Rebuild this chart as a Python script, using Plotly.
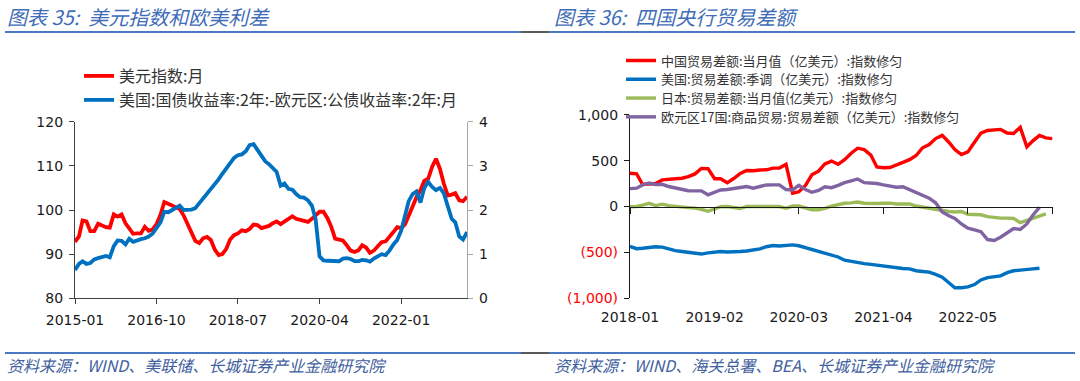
import pandas as pd
import plotly.graph_objects as go

# ---------------- data: left chart (monthly, 2015-01 .. 2023-06) ----------------
left_start = "2015-01-01"
dxy = [92.8, 94.0, 97.6, 97.4, 95.2, 95.2, 96.9, 96.4, 96.1, 96.0, 99.0, 98.5,
       99.0, 97.0, 95.9, 94.6, 94.7, 94.7, 96.2, 95.3, 95.6, 96.8, 98.9, 101.8,
       101.4, 101.0, 100.8, 100.2, 98.8, 97.0, 94.9, 93.0, 92.5, 93.6, 93.9, 93.2,
       91.0, 89.8, 90.0, 91.2, 93.3, 94.3, 94.7, 95.4, 95.2, 95.7, 96.7, 96.6,
       95.9, 96.1, 96.4, 97.0, 97.4, 96.8, 97.4, 98.2, 98.6, 98.0, 97.8, 97.7,
       97.3, 98.0, 98.7, 99.6, 99.6, 98.2, 96.3, 93.5, 93.3, 93.1, 92.0, 90.8,
       90.5, 90.9, 92.0, 91.5, 90.3, 90.8, 91.8, 92.7, 92.9, 93.8, 95.0, 96.1,
       95.9, 96.8, 98.8, 100.6, 102.9, 104.5, 106.6, 107.1, 109.8, 111.6, 109.3, 106.0,
       103.3, 103.5, 103.8, 102.2, 102.0, 103.0]
spread = [0.64, 0.78, 0.84, 0.78, 0.80, 0.88, 0.91, 0.94, 0.96, 0.93, 1.18, 1.31,
          1.30, 1.22, 1.35, 1.28, 1.32, 1.34, 1.36, 1.40, 1.47, 1.58, 1.72, 1.96,
          1.95, 2.00, 2.05, 2.10, 2.00, 2.00, 2.01, 2.04, 2.15, 2.27, 2.36, 2.50,
          2.60, 2.70, 2.82, 2.94, 3.06, 3.18, 3.24, 3.26, 3.33, 3.47, 3.49, 3.35,
          3.22, 3.10, 3.04, 2.95, 2.86, 2.55, 2.60, 2.48, 2.46, 2.36, 2.29, 2.28,
          2.22, 2.10, 1.80, 0.95, 0.86, 0.85, 0.85, 0.84, 0.84, 0.90, 0.91, 0.89,
          0.84, 0.84, 0.87, 0.86, 0.83, 0.90, 0.96, 1.00, 0.98, 1.08, 1.22, 1.32,
          1.53, 1.85, 2.20, 2.36, 2.42, 2.17, 2.50, 2.64, 2.52, 2.45, 2.50, 2.38,
          2.10, 1.80, 1.72, 1.40, 1.33, 1.50]
left_ticks = ["2015-01", "2016-10", "2018-07", "2020-04", "2022-01"]
left_names = ["美元指数:月", "美国:国债收益率:2年:-欧元区:公债收益率:2年:月"]

# ---------------- data: right chart (monthly, 2018-01 ..) ----------------
right_start = "2018-01-01"
china = [363, 356, 240, 244, 251, 290, 300, 302, 308, 325, 355, 415,
         412, 302, 302, 258, 305, 360, 392, 390, 398, 400, 418, 420,
         460, 145, 160, 230, 345, 385, 465, 495, 460, 510, 580, 635,
         620, 560, 430, 422, 425, 450, 480, 510, 555, 640, 675, 740,
         775, 700, 620, 565, 595, 700, 800, 828, 830, 840, 800, 795,
         862, 650, 715, 775, 748, 740]
usa = [-435, -460, -455, -447, -438, -442, -465, -480, -490, -498, -508, -518,
       -505, -495, -490, -495, -495, -490, -485, -478, -462, -438, -425, -430,
       -426, -418, -428, -450, -470, -485, -510, -530, -550, -585, -600, -606,
       -622, -630, -640, -650, -660, -668, -675, -680, -700, -708, -715, -740,
       -770, -830, -885, -885, -875, -850, -800, -775, -765, -755, -720, -700,
       -693, -690, -680, -672]
japan = [-2, 0, 15, 35, 10, 25, 10, 0, -5, -12, -18, -30,
         -52, -25, -2, 0, -10, -22, 0, 0, -2, 0, 0, 0,
         -20, 5, 5, -20, -35, -35, -20, 5, 20, 35, 40, 48,
         35, 30, 33, 36, 37, 28, 28, 28, 5, -8, -15, -25,
         -45, -55, -60, -55, -85, -90, -90, -110, -120, -127, -127, -130,
         -175, -150, -130, -105, -80]
euro = [195, 200, 235, 255, 238, 242, 218, 200, 185, 172, 170, 170,
        128, 155, 180, 185, 200, 207, 218, 200, 218, 235, 236, 236,
        185, 180, 230, 185, 155, 175, 215, 205, 230, 260, 280, 300,
        260, 255, 250, 235, 225, 210, 215, 185, 150, 120, 90, 40,
        -60, -100, -130, -190, -235, -255, -275, -360, -370, -335, -290, -240,
        -250, -190, -95, -10]
right_ticks = ["2018-01", "2019-02", "2020-03", "2021-04", "2022-05", "2023-06"]
right_yvals = [1000, 500, 0, -500, -1000]
right_ylabels = ["1,000", "500", "0", "(500)", "(1,000)"]
right_names = ["中国贸易差额:当月值（亿美元）:指数修匀",
               "美国:贸易差额:季调（亿美元）:指数修匀",
               "日本:贸易差额:当月值(亿美元）:指数修匀",
               "欧元区17国:商品贸易:贸易差额（亿美元）:指数修匀"]

titles = ["图表 35:  美元指数和欧美利差", "图表 36:  四国央行贸易差额"]
sources = ["资料来源：WIND、美联储、长城证券产业金融研究院",
           "资料来源：WIND、海关总署、BEA、长城证券产业金融研究院"]

# ---------------- build ----------------
W, H = 1080, 381
def py(p):  # pixel-from-top -> paper
    return 1 - p / H
def px(p):
    return p / W

dates_l = pd.date_range(left_start, periods=len(dxy), freq="MS")
dates_r = pd.date_range(right_start, periods=len(china), freq="MS")

TICKFONT = dict(family="DejaVu Sans", size=14, color="#1a1a1a")
LEGFONT_L = dict(family="Noto Sans CJK SC", size=16, color="#333333")
LEGFONT_R = dict(family="Noto Sans CJK SC", size=13, color="#333333")

fig = go.Figure()
fig.add_trace(go.Scatter(x=dates_l, y=dxy, name=left_names[0], mode="lines",
                         line=dict(color="#FF0000", width=3.8), xaxis="x", yaxis="y",
                         legend="legend"))
fig.add_trace(go.Scatter(x=dates_l, y=spread, name=left_names[1], mode="lines",
                         line=dict(color="#0070C0", width=3.8), xaxis="x", yaxis="y2",
                         legend="legend2"))

rcolors = ["#FF0000", "#0070C0", "#9BBB59", "#8064A2"]
rseries = [china, usa, japan, euro]
for i, (s, c) in enumerate(zip(rseries, rcolors)):
    fig.add_trace(go.Scatter(x=dates_r[:len(s)], y=s, name=right_names[i], mode="lines",
                             line=dict(color=c, width=3.4), xaxis="x2", yaxis="y3",
                             legend="legend%d" % (i + 3)))
# helper (invisible) trace so the zero-line axis of the right chart is drawn
fig.add_trace(go.Scatter(x=[dates_r[0]], y=[0], mode="lines", line=dict(width=0),
                         showlegend=False, hoverinfo="skip", xaxis="x3", yaxis="y4"))

yl_dom = [py(298.3), py(121.7)]
yr_dom = [py(298.3), py(114.7)]
zero_pos = yr_dom[0] + (yr_dom[1] - yr_dom[0]) * 0.5
r_end = pd.Timestamp(right_ticks[-1] + "-01")

fig.update_layout(
    width=W, height=H, margin=dict(l=0, r=0, t=0, b=0, autoexpand=False),
    paper_bgcolor="white", plot_bgcolor="white",
    xaxis=dict(domain=[px(75), px(467)], anchor="y", automargin=False,
               range=[dates_l[0], dates_l[-1]],
               tickvals=[pd.Timestamp(t + "-01") for t in left_ticks], ticktext=left_ticks,
               ticks="outside", ticklen=5, tickcolor="#404040",
               showline=True, linecolor="#404040", linewidth=1.2,
               showgrid=False, zeroline=False, tickfont=TICKFONT, ticklabelstandoff=4),
    yaxis=dict(domain=yl_dom, anchor="x", range=[80, 120], dtick=10, automargin=False,
               ticks="outside", ticklen=5, tickcolor="#404040",
               showline=True, linecolor="#404040", linewidth=1.2,
               showgrid=False, zeroline=False, tickfont=TICKFONT, ticklabelstandoff=3),
    yaxis2=dict(overlaying="y", side="right", anchor="x", range=[0, 4], dtick=1,
                automargin=False,
                ticks="outside", ticklen=5, tickcolor="#A6A6A6",
                showline=True, linecolor="#A6A6A6", linewidth=1.2,
                showgrid=False, zeroline=False, tickfont=TICKFONT, ticklabelstandoff=3),
    xaxis2=dict(domain=[px(630), px(1052.5)], anchor="y3", automargin=False,
                range=[dates_r[0], r_end],
                tickvals=[pd.Timestamp(t + "-01") for t in right_ticks], ticktext=right_ticks,
                ticks="", showline=False, showgrid=False, zeroline=False,
                tickfont=TICKFONT, ticklabelstandoff=9),
    yaxis3=dict(domain=yr_dom, anchor="x2", range=[-1000, 1000], automargin=False,
                tickvals=right_yvals,
                ticktext=[t if v >= 0 else '<span style="color:#FF0000">%s</span>' % t
                          for t, v in zip(right_ylabels, right_yvals)],
                ticks="outside", ticklen=5, tickcolor="#1a1a1a",
                showline=True, linecolor="#1a1a1a", linewidth=1.2,
                showgrid=False, zeroline=False, tickfont=TICKFONT, ticklabelstandoff=3),
    xaxis3=dict(overlaying="x2", anchor="free", position=zero_pos, side="bottom",
                automargin=False, range=[dates_r[0], r_end],
                tickvals=[pd.Timestamp(t + "-01") for t in right_ticks],
                showticklabels=False, ticks="outside", ticklen=6, tickcolor="#1a1a1a",
                showline=True, linecolor="#1a1a1a", linewidth=1.2,
                showgrid=False, zeroline=False),
    yaxis4=dict(overlaying="y3", anchor="x2", range=[-1000, 1000], visible=False,
                automargin=False),
    showlegend=True,
)

def leg(x, y, font):
    return dict(x=x, y=y, xanchor="left", yanchor="middle", bgcolor="rgba(0,0,0,0)",
                font=font, itemwidth=30, borderwidth=0)

fig.update_layout(
    legend=leg(px(79), py(76), LEGFONT_L),
    legend2=leg(px(79), py(100), LEGFONT_L),
    legend3=leg(px(621), py(60.5), LEGFONT_R),
    legend4=leg(px(621), py(79.3), LEGFONT_R),
    legend5=leg(px(621), py(98.1), LEGFONT_R),
    legend6=leg(px(621), py(116.9), LEGFONT_R),
)

# titles and sources
TCOL = "#3F6DB8"
for i, xs in enumerate([5, 552]):
    fig.add_annotation(text=titles[i], x=px(xs), y=py(17), xref="paper", yref="paper",
                       xanchor="left", yanchor="middle", showarrow=False,
                       font=dict(family="Noto Sans CJK SC", size=20, color=TCOL, style="italic"))
    fig.add_annotation(text=sources[i], x=px(xs), y=py(365), xref="paper", yref="paper",
                       xanchor="left", yanchor="middle", showarrow=False,
                       font=dict(family="Noto Sans CJK SC", size=16, color="#41609E", style="italic"))

# header / footer rules
for yy in [32, 353]:
    for x0, x1, col in [(5, 521, "#4A78C2"), (521, 549, "#5A5A5A"), (549, 1075, "#4A78C2")]:
        fig.add_shape(type="line", xref="paper", yref="paper",
                      x0=px(x0), x1=px(x1), y0=py(yy), y1=py(yy),
                      line=dict(color=col, width=2))

# remove the browser's default 8px page margin so the figure fills the window exactly
fig.write_html("out.html", config={"displayModeBar": False},
               post_script="document.body.style.margin='0';document.body.style.overflow='hidden';")
